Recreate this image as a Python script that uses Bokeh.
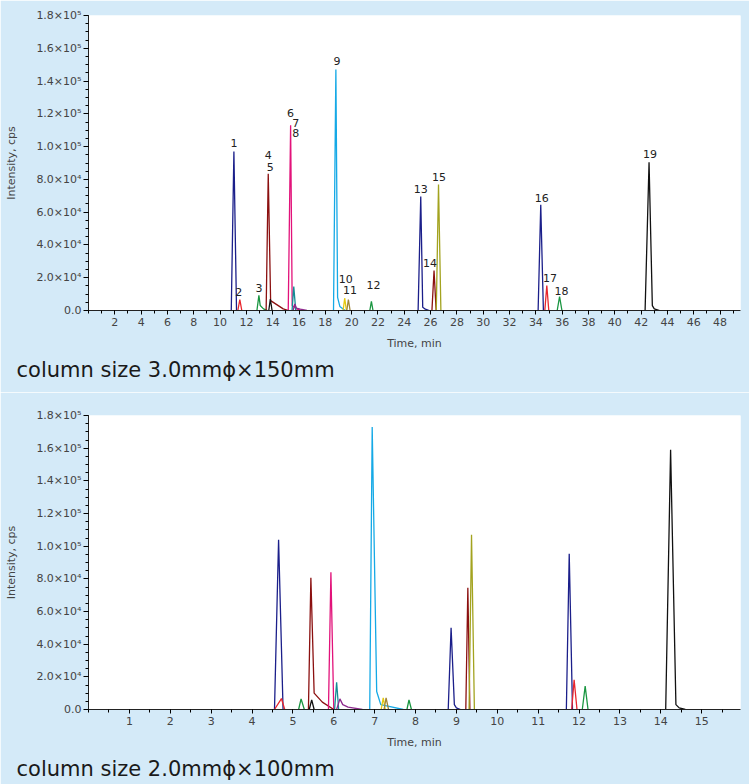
from bokeh.plotting import figure
from bokeh.layouts import column
from bokeh.models import FixedTicker, Title, Range1d
from bokeh.core.properties import value
from bokeh.embed import file_html
from bokeh.resources import INLINE

# ---------------- data ----------------
peak_labels = [str(i) for i in range(1, 20)]

y_tick_values = [0, 20000, 40000, 60000, 80000, 100000, 120000, 140000, 160000, 180000]
y_tick_labels = ["0.0", "2.0×10⁴", "4.0×10⁴", "6.0×10⁴", "8.0×10⁴",
                 "1.0×10⁵", "1.2×10⁵", "1.4×10⁵", "1.6×10⁵", "1.8×10⁵"]

# column 3.0 mm x 150 mm : retention time (min), apex height (cps),
# peak start, point after the fast drop, tail point, peak end
top_rt = [11.05, 11.5, 12.95, 13.66, 13.82, 15.36, 15.6, 15.68, 18.8, 19.47,
          19.75, 21.5, 25.25, 26.26, 26.6, 34.37, 34.83, 35.8, 42.6]
top_height = [97000, 6700, 9200, 83500, 7000, 113000, 14600, 4000, 147000, 7500,
              6700, 5500, 69500, 24400, 76900, 64500, 15250, 8500, 90500]
top_start = [10.85, 11.35, 12.8, 13.5, 13.7, 15.18, 15.47, 15.55, 18.62, 19.35,
             19.63, 21.38, 25.05, 26.1, 26.43, 34.17, 34.68, 35.62, 42.3]
top_drop = [11.25, 11.65, 13.05, 13.84, 13.95, 15.48, 15.75, 15.8, 18.93, 19.6,
            19.88, 21.62, 25.4, 26.42, 26.78, 34.57, 34.98, 35.98, 42.85]
top_drop_height = [0, 0, 3000, 6000, 0, 3000, 0, 1500, 8000, 0,
                   0, 0, 2000, 0, 0, 0, 0, 0, 3000]
top_tail = [11.25, 11.65, 13.3, 14.8, 13.95, 15.8, 15.75, 16.1, 19.1, 19.6,
            19.88, 21.62, 25.6, 26.42, 26.78, 34.57, 34.98, 35.98, 43.0]
top_tail_height = [0, 0, 1000, 1000, 0, 1000, 0, 800, 2500, 0,
                   0, 0, 800, 0, 0, 0, 0, 0, 1000]
top_end = [11.25, 11.65, 13.6, 15.2, 13.95, 16.2, 15.75, 16.6, 19.5, 19.6,
           19.88, 21.62, 25.9, 26.42, 26.78, 34.57, 34.98, 35.98, 43.4]

# column 2.0 mm x 100 mm
bot_rt = [4.65, 4.72, 5.2, 5.44, 5.46, 5.93, 6.07, 6.15, 6.94, 7.21,
          7.28, 7.84, 8.87, 9.28, 9.37, 11.76, 11.88, 12.15, 14.24]
bot_height = [103900, 6700, 6500, 80600, 5900, 84000, 16700, 6500, 173000, 7100,
              7100, 5900, 50000, 74500, 107000, 95300, 18200, 14300, 159000]
bot_start = [4.55, 4.55, 5.14, 5.38, 5.4, 5.87, 6.02, 6.07, 6.88, 7.16,
             7.23, 7.79, 8.8, 9.23, 9.31, 11.69, 11.82, 12.08, 14.12]
bot_drop = [4.76, 4.8, 5.28, 5.52, 5.52, 6.0, 6.12, 6.22, 7.05, 7.26,
            7.34, 7.9, 8.95, 9.33, 9.44, 11.84, 11.95, 12.22, 14.37]
bot_drop_height = [0, 0, 0, 10000, 0, 0, 0, 3000, 11000, 0,
                   0, 0, 3000, 0, 0, 0, 0, 0, 3000]
bot_tail = [4.76, 4.8, 5.28, 5.72, 5.52, 6.0, 6.12, 6.35, 7.15, 7.26,
            7.34, 7.9, 9.0, 9.33, 9.44, 11.84, 11.95, 12.22, 14.45]
bot_tail_height = [0, 0, 0, 4500, 0, 0, 0, 1500, 3000, 0,
                   0, 0, 1000, 0, 0, 0, 0, 0, 1000]
bot_end = [4.76, 4.8, 5.28, 6.0, 5.52, 6.0, 6.12, 6.7, 7.7, 7.26,
           7.34, 7.9, 9.1, 9.33, 9.44, 11.84, 11.95, 12.22, 14.6]

# ---------------- styles ----------------
NAVY, RED, GREEN, MAROON, BLACK = "#1b1f8a", "#e8262d", "#1a9641", "#8b1010", "#111111"
MAGENTA, TEAL, PURPLE, CYAN = "#e2127a", "#138d95", "#8e2c8e", "#15a9e6"
YELLOW, OLIVEBROWN, OLIVE = "#e5c80f", "#a08538", "#a3a31f"
peak_colors = [NAVY, RED, GREEN, MAROON, BLACK, MAGENTA, TEAL, PURPLE, CYAN, YELLOW,
               OLIVEBROWN, GREEN, NAVY, MAROON, OLIVE, NAVY, RED, GREEN, BLACK]

LABEL_SHIFT = -4.5
label_dx = [0, -1, 0, 0, 0, 0, 2, 1, 1, 1, 1.6, 2, 0, -4, 0.6, 1, 3.3, 2, 1]
label_dy = [d + LABEL_SHIFT for d in
            [-4.3, -3.3, -2.6, -13.8, -127.5, -8, -159.4, -166, -4, -14.4,
             -5, -11.7, -2.8, -3.3, -3.2, -2.6, -3.3, -1.1, -3.3]]

BG = "#d4eaf8"
FONT = "DejaVu Sans"


def make_panel(rt, height, start, drop, drop_h, tail, tail_h, end, x_end, x_major,
               x_minor, caption, h, top_border, bottom_border, labels=True):
    p = figure(width=749, height=h, output_backend="svg", toolbar_location=None,
               x_range=Range1d(0, x_end), y_range=Range1d(0, 180000),
               min_border_left=88, min_border_right=9,
               min_border_top=top_border, min_border_bottom=bottom_border)
    p.background_fill_color = "white"
    p.border_fill_color = BG
    p.outline_line_color = None
    p.grid.visible = False

    xs = [[s, r, d, t, e] for s, r, d, t, e in zip(start, rt, drop, tail, end)]
    ys = [[0, hh, dh, th, 0] for hh, dh, th in zip(height, drop_h, tail_h)]
    p.multi_line(xs, ys, line_color=peak_colors, line_width=1.3)

    if labels:
        p.text(x=rt, y=height, text=peak_labels, x_offset=label_dx, y_offset=label_dy,
               text_align="center", text_baseline="alphabetic",
               text_font=value(FONT), text_font_size="11px", text_color="#222222")

    # y axis
    yax = p.yaxis[0]
    yax.ticker = FixedTicker(ticks=y_tick_values,
                             minor_ticks=list(range(0, 180001, 5000)))
    yax.major_label_overrides = {v: s for v, s in zip(y_tick_values, y_tick_labels)}
    yax.axis_label = "Intensity, cps"
    yax.axis_label_text_font = FONT
    yax.axis_label_text_font_size = "11px"
    yax.axis_label_text_font_style = "normal"
    yax.axis_label_standoff = 15
    yax.major_label_text_font = FONT
    yax.major_label_text_font_size = "11px"
    yax.major_label_standoff = 2
    yax.major_tick_out = 5
    yax.major_tick_in = 0
    yax.minor_tick_out = 3
    yax.minor_tick_in = 0
    yax.axis_line_color = "#222222"

    # x axis
    xax = p.xaxis[0]
    xax.ticker = FixedTicker(ticks=x_major, minor_ticks=x_minor)
    xax.axis_label = "Time, min"
    xax.axis_label_text_font = FONT
    xax.axis_label_text_font_size = "11px"
    xax.axis_label_text_font_style = "normal"
    xax.axis_label_standoff = 8
    xax.major_label_text_font = FONT
    xax.major_label_text_font_size = "11px"
    xax.major_label_standoff = 3
    xax.major_tick_out = 4
    xax.major_tick_in = 0
    xax.minor_tick_out = 3
    xax.minor_tick_in = 0
    xax.axis_line_color = "#222222"

    t = Title(text=caption, text_font=FONT, text_font_size="21px",
              text_font_style="normal", text_color="#1a1a1a", align="left",
              offset=-72, standoff=6)
    p.add_layout(t, "below")
    return p


top_major = list(range(2, 49, 2))
top_minor = list(range(0, 50, 1))
bot_major = list(range(1, 16))
bot_minor = [i * 0.5 for i in range(0, 32)]

p1 = make_panel(top_rt, top_height, top_start, top_drop, top_drop_height, top_tail,
                top_tail_height, top_end, 49.55, top_major, top_minor,
                "column size 3.0mmϕ×150mm", 392, 15, 82, labels=True)
p2 = make_panel(bot_rt, bot_height, bot_start, bot_drop, bot_drop_height, bot_tail,
                bot_tail_height, bot_end, 15.95, bot_major, bot_minor,
                "column size 2.0mmϕ×100mm", 392, 23, 75, labels=False)

layout = column(p1, p2, spacing=0)
open("out.html", "w").write(file_html(layout, INLINE))
